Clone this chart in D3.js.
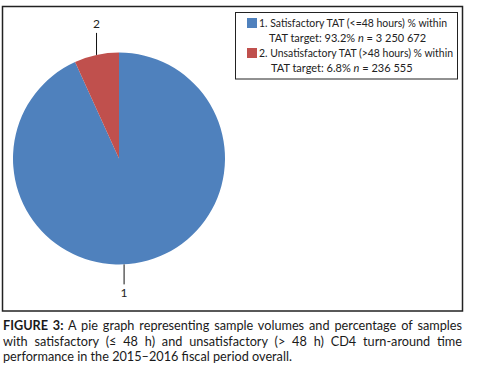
<!DOCTYPE html>
<html>
<head>
<meta charset="utf-8">
<script src="https://cdn.jsdelivr.net/npm/d3@7"></script>
<style>
  body { margin: 0; background: #fff; width: 480px; height: 370px; overflow: hidden; }
  #chart { position: absolute; left: 0; top: 0; }
  .caption { position: absolute; left: 3px; top: 318px; width: 459px; font-family: Lato, "Open Sans", sans-serif; font-size: 12.7px; color: #1a1a1a; line-height: 15.5px; }
  .caption div { text-align: justify; text-align-last: justify; white-space: nowrap; }
  .caption div.last { text-align-last: left; }
</style>
</head>
<body>
<svg id="chart" width="480" height="318"></svg>
<div class="caption">
  <div><b>FIGURE 3:</b> A pie graph representing sample volumes and percentage of samples</div>
  <div>with satisfactory (≤ 48 h) and unsatisfactory (&gt; 48 h) CD4 turn-around time</div>
  <div class="last">performance in the 2015–2016 fiscal period overall.</div>
</div>
<script>
// Data
const categories = ["1", "2"];
const shares = [93.2, 6.8];
const counts = ["3 250 672", "236 555"];
const legendNames = ["1. Satisfactory TAT (<=48 hours) % within", "2. Unsatisfactory TAT (>48 hours) % within"];
const colors = ["#4f81bd", "#c0504d"];

const svg = d3.select('#chart');

// outer frame
svg.append('rect')
  .attr('x', 2.5).attr('y', 6.5)
  .attr('width', 460).attr('height', 304.5)
  .attr('fill', 'none').attr('stroke', '#222').attr('stroke-width', 1.5);

const cx = 119, cy = 158.5, r = 106;

const pie = d3.pie().sort(null).value(d => d)(shares);
const arc = d3.arc().innerRadius(0).outerRadius(r);

const g = svg.append('g').attr('transform', `translate(${cx},${cy})`);
g.selectAll('path')
  .data(pie)
  .join('path')
  .attr('d', arc)
  .attr('fill', (d, i) => colors[i]);

// leader lines + labels (slice 1 label is pushed to the bottom like Excel does)
const labelAngle = [Math.PI - 0.048, null];
pie.forEach((d, i) => {
  const a = labelAngle[i] != null ? labelAngle[i] : (d.startAngle + d.endAngle) / 2;
  const x = Math.sin(a) * r;
  const y0 = -Math.cos(a) * r;
  const up = y0 < 0;
  const y1 = up ? y0 - 22 : y0 + 20;
  g.append('line')
    .attr('x1', x).attr('x2', x).attr('y1', y0).attr('y2', y1)
    .attr('stroke', '#111').attr('stroke-width', 1);
  g.append('text')
    .attr('x', x).attr('y', up ? y1 - 5 : y1 + 13)
    .attr('text-anchor', 'middle')
    .attr('font-family', 'Lato, sans-serif')
    .attr('font-size', 12)
    .attr('fill', '#222')
    .text(categories[i]);
});

// legend
svg.append('rect')
  .attr('x', 235.5).attr('y', 12.5)
  .attr('width', 222).attr('height', 66.5)
  .attr('fill', '#fff').attr('stroke', '#222').attr('stroke-width', 1);

// text widths as measured on the reference (Calibri is narrower than Lato)
const line1Len = [188, 194];
const line2Len = [145, 131];
const leg = svg.append('g').attr('font-family', 'Lato, sans-serif').attr('font-size', 11).attr('fill', '#222');
categories.forEach((c, i) => {
  const y = 18 + i * 30;
  leg.append('rect').attr('x', 247).attr('y', y).attr('width', 10).attr('height', 10).attr('fill', colors[i]);
  // one text element per entry, wrapped onto two lines
  const t = leg.append('text');
  t.append('tspan').attr('x', 259).attr('y', y + 9)
    .attr('textLength', line1Len[i]).attr('lengthAdjust', 'spacingAndGlyphs')
    .text(legendNames[i]);
  t.append('tspan').attr('x', 269 + i * 2).attr('y', y + 23.5)
    .text(`TAT target: ${shares[i]}% `);
  t.append('tspan').attr('font-style', 'italic').text('n');
  t.append('tspan').text(` = ${counts[i]}`);
});
</script>
</body>
</html>
